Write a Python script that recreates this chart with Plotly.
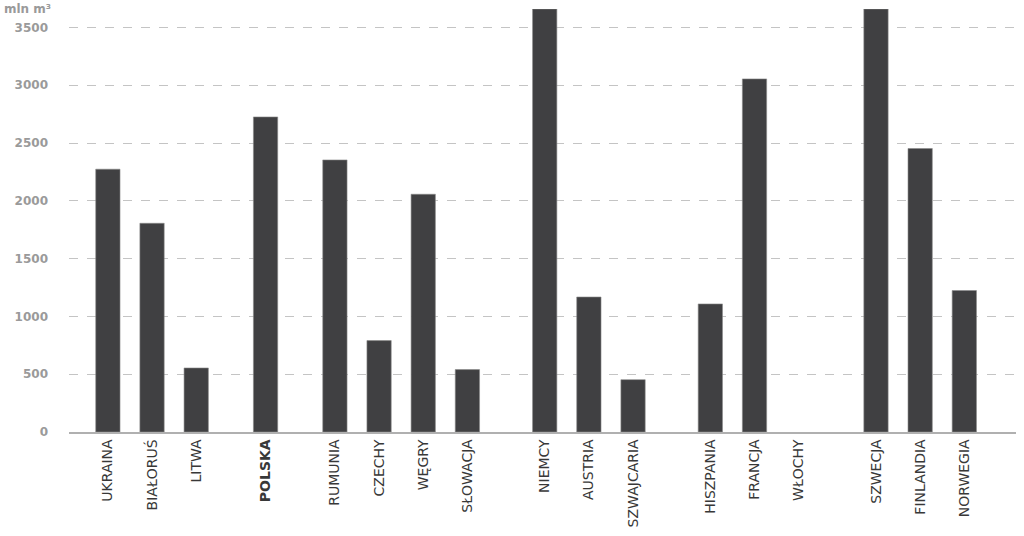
import plotly.graph_objects as go

# growing stock per country, mln m3
groups = [
    ['UKRAINA', 'BIAŁORUŚ', 'LITWA'],
    ['POLSKA'],
    ['RUMUNIA', 'CZECHY', 'WĘGRY', 'SŁOWACJA'],
    ['NIEMCY', 'AUSTRIA', 'SZWAJCARIA'],
    ['HISZPANIA', 'FRANCJA', 'WŁOCHY'],
    ['SZWECJA', 'FINLANDIA', 'NORWEGIA'],
]
values = {
    'UKRAINA': 2274, 'BIAŁORUŚ': 1806, 'LITWA': 554,
    'POLSKA': 2726,
    'RUMUNIA': 2354, 'CZECHY': 791, 'WĘGRY': 2057, 'SŁOWACJA': 540,
    'NIEMCY': 3660, 'AUSTRIA': 1168, 'SZWAJCARIA': 453,
    'HISZPANIA': 1108, 'FRANCJA': 3055, 'WŁOCHY': None,  # no bar
    'SZWECJA': 3660, 'FINLANDIA': 2453, 'NORWEGIA': 1224,
}
highlight = 'POLSKA'
y_ticks = [0, 500, 1000, 1500, 2000, 2500, 3000, 3500]

# gap between country groups (in bar slots)
group_gaps = [1.57, 1.57, 1.75, 1.75, 1.75]

names, xs = [], []
pos = 0.0
for gi, grp in enumerate(groups):
    if gi > 0:
        pos += group_gaps[gi - 1] - 1
    for n in grp:
        names.append(n)
        xs.append(pos)
        pos += 1

ys = [values[n] for n in names]
labels = [f'<b>{n}</b>' if n == highlight else n for n in names]

fig = go.Figure(go.Bar(
    x=xs, y=ys, width=0.55,
    marker=dict(color='#404042', line=dict(color='#8a8a8a', width=0.6)),
    hovertext=names,
))

fig.update_layout(
    width=1024, height=536,
    margin=dict(l=69, r=8, t=9, b=104),
    plot_bgcolor='white', paper_bgcolor='white',
    showlegend=False,
    font=dict(family='DejaVu Sans', color='#333333'),
)
fig.update_xaxes(
    range=[-0.88, xs[-1] + 1.17],
    tickvals=xs, ticktext=labels, tickangle=-90,
    tickfont=dict(size=14, color='#383838'),
    showline=True, linecolor='#b0b0b0', linewidth=1.5,
    showgrid=False, zeroline=False, ticks='',
)
fig.update_yaxes(
    range=[0, 3660],
    tickvals=y_ticks,
    tickfont=dict(size=12, color='#9a9a9a', weight='bold'),
    ticklabelstandoff=20,
    showgrid=True, gridcolor='#c4c4c4', griddash='dash', gridwidth=1,
    zeroline=False, showline=False, ticks='',
)
fig.add_annotation(
    text='mln m³', xref='paper', yref='paper', x=-0.071, y=1.0,
    xanchor='left', yanchor='middle', showarrow=False,
    font=dict(size=12, color='#9a9a9a', weight='bold'),
)

# page body has an 8px default margin; drop it so the figure fills the window
fig.write_html('out.html', config={'displayModeBar': False},
               post_script="document.body.style.margin='0';")
